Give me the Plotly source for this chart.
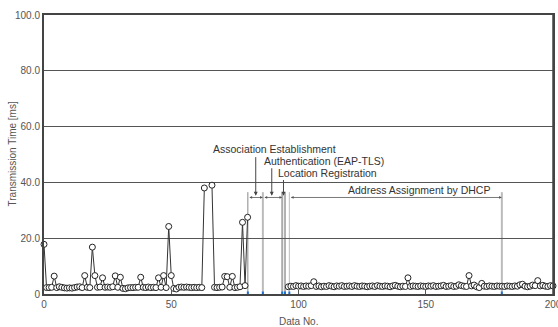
import plotly.graph_objects as go

# ---- data ----
data_no = list(range(0, 201))

seg_a = [17.8, 2.3, 2.3, 2.4, 6.4, 2.3, 2.6, 2.4, 2.2, 2.1,
         2.2, 2.1, 2.3, 2.5, 2.6, 2.3, 6.6, 2.4, 2.3, 16.8,
         6.6, 2.4, 2.5, 5.8, 2.4, 2.5, 2.4, 2.6, 6.5, 2.4,
         6.0, 2.0, 1.9, 2.2, 2.3, 2.3, 2.4, 2.4, 6.0, 2.4,
         2.3, 2.5, 2.3, 2.4, 2.3, 5.8, 2.4, 6.6, 2.3, 24.2,
         6.6, 2.0, 1.8, 2.4, 2.5, 2.4, 2.5, 2.4, 2.3, 2.4,
         2.3, 2.4, 2.3, 38.0, None, None, 39.0, 2.4, 2.3, 2.4,
         2.5, 6.3, 6.2, 2.4, 6.3, 2.3, 2.4, 2.6, 25.7, 3.0,
         27.5]
gap = [None] * 15  # data no. 81-95 (handover in progress)
seg_b = [2.6, 2.8, 2.7, 3.0, 2.8, 2.9, 2.7, 2.9, 2.8, 3.0,
         4.4, 2.7, 2.9, 2.6, 2.8, 2.7, 3.0, 2.8, 2.6, 2.9,
         2.8, 3.0, 2.7, 2.8, 2.9, 2.7, 3.0, 2.8, 2.7, 2.9,
         2.8, 2.6, 2.8, 2.9, 2.7, 3.0, 2.8, 2.7, 2.9, 2.8,
         2.6, 2.9, 3.1, 2.8, 2.6, 2.8, 2.7, 5.8, 2.7, 2.9,
         2.8, 2.7, 2.9, 2.8, 2.7, 2.9, 2.8, 3.0, 2.7, 2.8,
         2.9, 3.1, 2.7, 2.8, 3.0, 2.7, 2.8, 3.3, 3.0, 2.8,
         2.7, 6.6, 2.9, 3.2, 2.6, 2.3, 3.8, 2.8, 2.7, 2.9,
         2.8, 2.7, 2.9, 2.8, 2.8, 2.7, 2.9, 2.8, 2.7, 2.9,
         2.8, 3.3, 3.5, 2.8, 2.6, 2.8, 3.2, 3.0, 4.8, 2.9,
         3.1, 2.8, 2.7, 3.0, 2.9]
transmission_ms = seg_a + gap + seg_b

phase_boundaries = [80.1, 86.0, 93.6, 94.7, 96.4, 179.9]
boundary_colors = ["#888888", "#bbbbbb", "#aaaaaa", "#999999", "#bbbbbb", "#bbbbbb"]
boundary_widths = [1, 2, 2, 1.5, 1, 2]
boundary_top = 36.5

phase_labels = ["Association Establishment", "Authentication (EAP-TLS)",
                "Location Registration", "Address Assignment by DHCP"]
label_x = [90.4, 110.0, 111.4, 147.3]
label_y = [51.8, 47.8, 43.5, 37.4]
pointer_x = [83.2, 89.5, 94.1]
pointer_top = [49.6, 45.6, 41.4]
arrow_y = 34.6
span_pairs = [(80.1, 86.0), (86.0, 93.6), (96.4, 179.9)]

x_ticks = [0, 50, 100, 150, 200]
y_ticks = [0, 20, 40, 60, 80, 100]
y_ticktext = ["0", "20.0", "40.0", "60.0", "80.0", "100.0"]

FONT = "Liberation Sans, Arial, sans-serif"

fig = go.Figure()

# boundary lines
shapes = []
for bx, bc, bw in zip(phase_boundaries, boundary_colors, boundary_widths):
    shapes.append(dict(type="line", xref="x", yref="y", x0=bx, x1=bx, y0=0, y1=boundary_top,
                       line=dict(color=bc, width=bw), layer="below"))
    shapes.append(dict(type="line", xref="x", yref="y", x0=bx, x1=bx, y0=0, y1=0.9,
                       line=dict(color="#1f6fd0", width=2)))
# right frame edge
shapes.append(dict(type="line", xref="paper", yref="paper", x0=1, x1=1, y0=0, y1=1,
                   line=dict(color="#444444", width=1.5)))

fig.add_trace(go.Scatter(
    x=data_no, y=transmission_ms, mode="lines+markers",
    line=dict(color="#333333", width=1),
    marker=dict(symbol="circle", size=6, color="white",
                line=dict(color="#222222", width=1)),
    connectgaps=False, cliponaxis=False, showlegend=False, hoverinfo="skip"))

annotations = []
for t, lx, ly in zip(phase_labels, label_x, label_y):
    annotations.append(dict(x=lx, y=ly, xref="x", yref="y", text=t, showarrow=False,
                            font=dict(family=FONT, size=10.5, color="#333333")))
for px, pt in zip(pointer_x, pointer_top):
    annotations.append(dict(x=px, y=arrow_y + 0.6, ax=px, ay=pt, xref="x", yref="y",
                            axref="x", ayref="y", text="", showarrow=True,
                            arrowhead=2, arrowsize=0.8, arrowwidth=1, arrowcolor="#444444"))
for a, b in span_pairs:
    annotations.append(dict(x=b, y=arrow_y, ax=a, ay=arrow_y, xref="x", yref="y",
                            axref="x", ayref="y", text="", showarrow=True,
                            arrowhead=2, startarrowhead=2, arrowside="end+start",
                            arrowsize=0.7, startarrowsize=0.7,
                            arrowwidth=0.8, arrowcolor="#555555"))
# axis titles
annotations.append(dict(x=0.5, y=0, xref="paper", yref="paper", yanchor="top", yshift=-20,
                        text="Data No.", showarrow=False,
                        font=dict(family=FONT, size=10, color="#555555")))
annotations.append(dict(x=0, y=0.5, xref="paper", yref="paper", xanchor="center",
                        xshift=-32, text="Transmission Time [ms]", textangle=-90,
                        showarrow=False, font=dict(family=FONT, size=10, color="#555555")))

fig.update_layout(
    width=558, height=327,
    margin=dict(l=44, r=5, t=15, b=33, autoexpand=False),
    paper_bgcolor="white", plot_bgcolor="white",
    font=dict(family=FONT, size=10, color="#555555"),
    shapes=shapes, annotations=annotations, hovermode=False,
    xaxis=dict(range=[0, 200], tickvals=x_ticks, ticks="inside", ticklen=4,
               tickcolor="#555555", showgrid=False, zeroline=False, automargin=False,
               ticklabeloverflow="allow",
               showline=True, linecolor="#444444", linewidth=1.5, mirror=True,
               tickfont=dict(size=10, color="#555555")),
    yaxis=dict(range=[0, 100], tickvals=y_ticks, ticktext=y_ticktext, ticks="",
               showgrid=True, gridcolor="#555555", gridwidth=1, zeroline=False,
               automargin=False, ticklabeloverflow="allow",
               showline=True, linecolor="#444444", linewidth=2, mirror=True,
               tickfont=dict(size=10, color="#555555")),
)

fig.write_html("out.html", config={"displayModeBar": False},
               post_script="document.body.style.margin='0';document.body.style.overflow='hidden';")
